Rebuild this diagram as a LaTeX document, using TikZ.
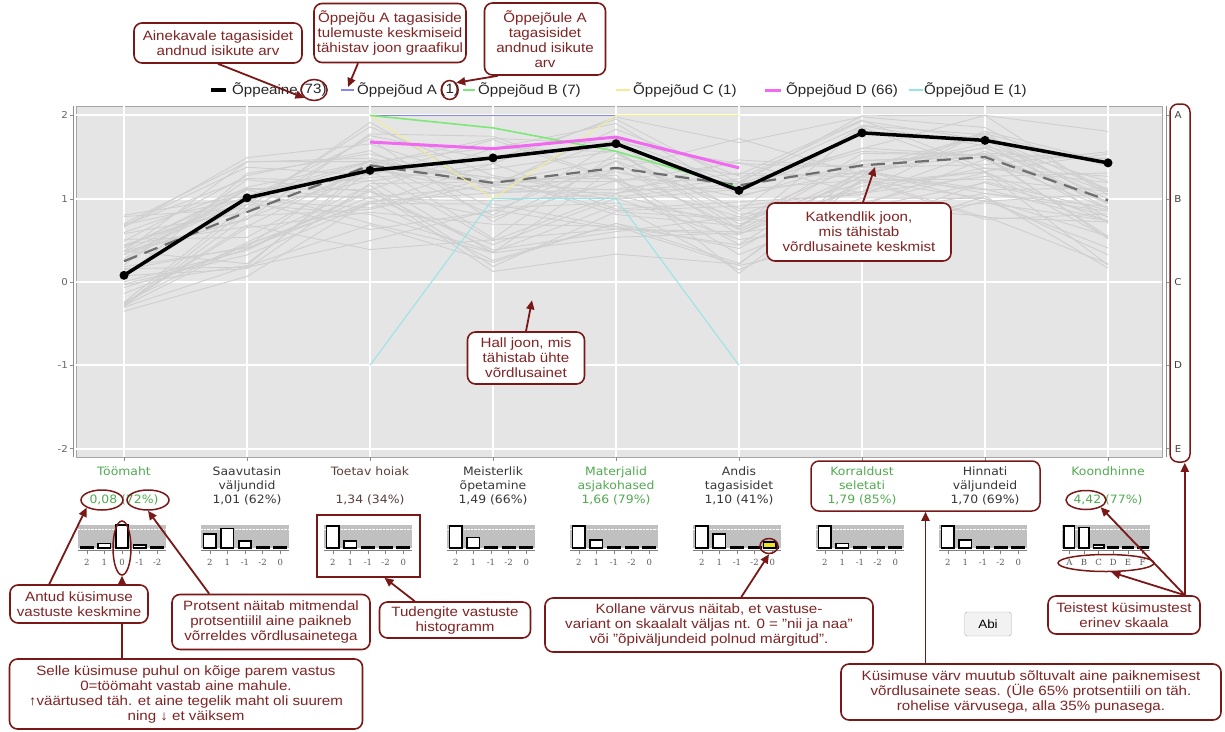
\documentclass[tikz,border=0pt]{standalone}
\usepackage{fontspec}
\setmainfont{Liberation Sans}[FakeStretch=1.12]
\newfontfamily\catfont{DejaVu Sans}[FakeStretch=1.08]
\newfontfamily\tickfont{DejaVu Serif}
\usetikzlibrary{arrows.meta,shapes.geometric,positioning}
\definecolor{callred}{RGB}{122,24,24}
\definecolor{calltext}{RGB}{128,36,36}
\definecolor{panelgray}{RGB}{229,229,229}
\definecolor{compgray}{RGB}{207,207,207}
\definecolor{meangray}{RGB}{110,110,110}
\definecolor{goodgreen}{RGB}{80,170,80}
\definecolor{labeldark}{RGB}{55,55,55}
\definecolor{labelred}{RGB}{92,62,62}
\definecolor{histgray}{RGB}{192,192,192}
\definecolor{lineA}{RGB}{135,135,240}
\definecolor{lineB}{RGB}{125,232,120}
\definecolor{lineC}{RGB}{242,236,150}
\definecolor{lineD}{RGB}{240,105,240}
\definecolor{lineE}{RGB}{150,228,232}
\definecolor{ybar}{RGB}{238,226,40}

% one small histogram: centre x, number of slots, bar heights, tick labels
\newcommand{\histbox}[4]{%
  \pgfmathsetmacro\hsw{88/#2}
  \fill[histgray] ({#1-44},525) rectangle ({#1+44},548);
  \draw[white, densely dotted] ({#1-44},529) -- ({#1+44},529);
  \foreach \h [count=\j from 0] in {#3}
    \draw[histbar] ({#1-44+\hsw*\j+0.15*\hsw},548) rectangle ++({0.7*\hsw},{-max(1.2,23*\h)});
  \draw[gray] ({#1-44},550.5) -- ({#1+44},550.5);
  \foreach \t [count=\j from 0] in {#4}{
    \draw[gray] ({#1-44+\hsw*\j+0.5*\hsw},550.5) -- ++(0,3);
    \node[ticklbl] at ({#1-44+\hsw*\j+0.5*\hsw},562) {\t};
  }
}

\begin{document}
\begin{tikzpicture}[x=1pt, y=-1pt,
    callout/.style={draw=callred, line width=1.6pt, rounded corners=8pt, fill=white, text=calltext, align=center, inner sep=1pt, font=\fontsize{13.5}{15}\selectfont},
    markring/.style={ellipse, draw=callred, line width=1.5pt, inner sep=0pt},
    markbox/.style={rectangle, draw=callred, line width=1.5pt, inner sep=0pt},
    pointer/.style={draw=callred, line width=1.8pt, -{Triangle[length=9pt,width=8pt]}},
    gridline/.style={white, line width=2pt},
    compline/.style={compgray, line width=0.9pt},
    meanline/.style={meangray, line width=2.2pt, dash pattern=on 14pt off 8pt},
    subjline/.style={black, line width=3.5pt, line join=round},
    subjdot/.style={circle, fill=black, inner sep=0pt, minimum size=9pt},
    histbar/.style={draw=black, fill=white, line width=1.6pt},
    ticklbl/.style={font=\tickfont\fontsize{8.5}{10}\selectfont, text=black!65, inner sep=0pt},
    catlbl/.style={font=\catfont\fontsize{11.5}{14}\selectfont, align=center, anchor=north, inner sep=0pt},
    legendtxt/.style={font=\fontsize{13.5}{16}\selectfont, text=black!85, anchor=west, inner sep=0pt},
    axislbl/.style={font=\catfont\fontsize{9.5}{11}\selectfont, text=black!60, inner sep=0pt},
    abibtn/.style={draw=black!30, fill=black!5, rounded corners=3pt, minimum width=47pt, minimum height=24pt, font=\fontsize{12}{14}\selectfont, inner sep=0pt}
  ]
  \useasboundingbox (0,0) rectangle (1225,731);

  % legend
  \draw[line width=4pt] (211,90) -- (226,90);
  \node[legendtxt] (legS) at (232,90) {Õppeaine};
  \node[legendtxt, right=1.5pt of legS] (legSn) {(73)};
  \draw[lineA, line width=1.4pt] (341,90) -- (354,90);
  \coordinate (swA) at (348,87);
  \node[legendtxt] (legA) at (357,90) {Õppejõud A};
  \node[legendtxt, right=3pt of legA] (legAn) {(1)};
  \draw[lineB, line width=2pt] (463,90) -- (475,90);
  \node[legendtxt] (legB) at (478,90) {Õppejõud B (7)};
  \draw[lineC, line width=2pt] (616,90) -- (630,90);
  \node[legendtxt] (legC) at (633,90) {Õppejõud C (1)};
  \draw[lineD, line width=3pt] (765,90) -- (781,90);
  \node[legendtxt] (legD) at (786,90) {Õppejõud D (66)};
  \draw[lineE, line width=2pt] (909,90) -- (923,90);
  \node[legendtxt] (legE) at (924,90) {Õppejõud E (1)};

  % chart panel, values on the y axis
  \begin{scope}[shift={(0,282)}, y=83.3pt]
    \filldraw[fill=panelgray, draw=black!35] (76,2.113) rectangle (1162,-2.1);
    \draw[black!45] (73,2.113) -- (73,-2.1);
    \draw[black!45] (1166,2.113) -- (1166,-2.1);
    \foreach \v in {-2,...,2}{
      \draw[gridline] (76,\v) -- (1162,\v);
      \draw[black!45] (70,\v) -- (73,\v);
      \draw[black!45] (1166,\v) -- (1169,\v);
      \node[axislbl, anchor=east] at (68,\v) {\v};
    }
    \foreach \v/\ch in {2/A,1/B,0/C,-1/D,-2/E}
      \node[axislbl, text=black!75] at (1178,\v) {\ch};
    \foreach \k in {0,...,8}
      \draw[gridline] ({124+123*\k},2.113) -- ({124+123*\k},-2.1);

    % comparison subjects
    \pgfmathsetseed{3}
    \foreach \g in {1,...,45}{
      \pgfmathsetmacro\gbase{0.45*rand}
      \foreach \k/\gm/\gs in {0/0.22/0.3, 1/0.8/0.55, 2/1.2/0.45, 3/1.0/0.55, 4/1.2/0.5, 5/0.9/0.6, 6/1.3/0.45, 7/1.4/0.35, 8/0.9/0.55}{
        \pgfmathsetmacro\gv{max(-0.95,min(2,\gm+\gbase+\gs*rand))}
        \coordinate (g\k) at ({124+123*\k},\gv);
      }
      \draw[compline] (g0) -- (g1) -- (g2) -- (g3) -- (g4) -- (g5) -- (g6) -- (g7) -- (g8);
    }

    % mean of comparison subjects
    \draw[meanline] (124,0.25) -- (247,0.84) -- (370,1.40) -- (493,1.19) -- (616,1.37) -- (739,1.16) -- (862,1.40) -- (985,1.50) -- (1108,0.98);

    % teachers
    \draw[lineA, line width=0.8pt] (370,2) -- (493,2) -- (616,2);
    \draw[lineC, line width=1pt] (370,2) -- (493,1.0) -- (616,2) -- (739,2);
    \draw[lineE, line width=1pt] (370,-1) -- (493,1.0) -- (616,1.0) -- (739,-1);
    \draw[lineB, line width=1.6pt] (370,2) -- (493,1.85) -- (616,1.57) -- (739,1.13);
    \draw[lineD, line width=3pt] (370,1.68) -- (493,1.6) -- (616,1.74) -- (739,1.37);

    % this subject
    \foreach \k/\v in {0/0.08, 1/1.01, 2/1.34, 3/1.49, 4/1.66, 5/1.10, 6/1.79, 7/1.70, 8/1.43}
      \node[subjdot] (s\k) at ({124+123*\k},\v) {};
    \draw[subjline] (s0.center) -- (s1.center) -- (s2.center) -- (s3.center) -- (s4.center) -- (s5.center) -- (s6.center) -- (s7.center) -- (s8.center);

    \coordinate (hallpt) at (532,-0.22);
    \coordinate (katkpt) at (875,1.38);
  \end{scope}

  % question labels
  \foreach \k/\lbl/\col in {
      0/{Töömaht\\[14pt]0,08 (72\%)}/goodgreen,
      1/{Saavutasin\\väljundid\\1,01 (62\%)}/labeldark,
      2/{Toetav hoiak\\[14pt]1,34 (34\%)}/labelred,
      3/{Meisterlik\\õpetamine\\1,49 (66\%)}/labeldark,
      4/{Materjalid\\asjakohased\\1,66 (79\%)}/goodgreen,
      5/{Andis\\tagasisidet\\1,10 (41\%)}/labeldark,
      6/{Korraldust\\seletati\\1,79 (85\%)}/goodgreen,
      7/{Hinnati\\väljundeid\\1,70 (69\%)}/labeldark,
      8/{Koondhinne\\[14pt]4,42 (77\%)}/goodgreen}{
    \draw[black!45] ({124+123*\k},457) -- ++(0,4);
    \node[catlbl, text=\col] (q\k) at ({124+123*\k},467) {\lbl};
  }

  % histograms
  \histbox{122}{5}{0.03,0.2,1.0,0.13,0.03}{2,1,0,-1,-2}
  \histbox{245}{5}{0.6,0.85,0.3,0.03,0.03}{2,1,-1,-2,0}
  \histbox{368}{5}{0.95,0.3,0.03,0.03,0.03}{2,1,-1,-2,0}
  \histbox{491}{5}{0.95,0.45,0.03,0.03,0.03}{2,1,-1,-2,0}
  \histbox{614}{5}{0.95,0.35,0.03,0.03,0.03}{2,1,-1,-2,0}
  \histbox{737}{5}{0.95,0.6,0.05,0.05,0.03}{2,1,-1,-2,0}
  \histbox{860}{5}{0.95,0.2,0.03,0.03,0.03}{2,1,-1,-2,0}
  \histbox{983}{5}{0.95,0.35,0.03,0.03,0.03}{2,1,-1,-2,0}
  \histbox{1106}{6}{0.95,0.9,0.12,0.05,0.03,0.03}{A,B,C,D,E,F}
  \draw[histbar, fill=ybar] (763.5,548) rectangle ++(12.3,-6);

  \node[abibtn] (abi) at (988,624) {Abi};

  % red marks
  \node[markring, minimum width=26pt, minimum height=21pt] (c73) at ([xshift=1pt]legSn.center) {};
  \node[markring, minimum width=17pt, minimum height=19pt] (c1) at (legAn.center) {};
  \node[markring, minimum width=42pt, minimum height=20pt] (c008) at (102,500) {};
  \node[markring, minimum width=42pt, minimum height=20pt] (c72) at (148,500) {};
  \node[markring, minimum width=18pt, minimum height=54pt] (c0tick) at (122,548) {};
  \node[markring, minimum width=18pt, minimum height=15pt] (cyellow) at (769,546) {};
  \node[markring, minimum width=40pt, minimum height=19pt] (c442) at (1086,500) {};
  \node[markring, minimum width=96pt, minimum height=17pt] (cAF) at (1106,563) {};
  \node[markbox, minimum width=103pt, minimum height=62pt] (toetavbox) at (368.5,546) {};
  \node[markbox, rounded corners=8pt, minimum width=229pt, minimum height=50pt] (korrbox) at (925.5,486) {};
  \node[markbox, rounded corners=8pt, minimum width=20pt, minimum height=358pt] (aebox) at (1180,283) {};

  % callouts
  \node[callout, minimum width=168pt, minimum height=40pt] (ainekava) at (218,43) {Ainekavale tagasisidet\\andnud isikute arv};
  \node[callout, minimum width=152pt, minimum height=59pt] (joonA) at (390,33) {Õppejõu A tagasiside\\tulemuste keskmiseid\\tähistav joon graafikul};
  \node[callout, minimum width=121pt, minimum height=72pt] (opetajale) at (545,39) {Õppejõule A\\tagasisidet\\andnud isikute\\arv};
  \node[callout, minimum width=117pt, minimum height=52pt] (hall) at (526,358) {Hall joon, mis\\tähistab ühte\\võrdlusainet};
  \node[callout, minimum width=184pt, minimum height=58pt] (katk) at (859,232) {Katkendlik joon,\\mis tähistab\\võrdlusainete keskmist};

  \draw[pointer] (ainekava.south) -- (c73.south west);
  \draw[pointer] ([xshift=-32pt]joonA.south) -- (swA);
  \draw[pointer] ([xshift=14pt]opetajale.south west) -- (c1.north east);
  \draw[pointer] (hall.north) -- (hallpt);
  \draw[pointer] ([xshift=4pt]katk.north) -- (katkpt);

  \node[callout, minimum width=353pt, minimum height=70pt] (selle) at (186,694) {Selle küsimuse puhul on kõige parem vastus\\0=töömaht vastab aine mahule.\\{\color{callred}↑}väärtused täh. et aine tegelik maht oli suurem\\ning {\color{callred}↓} et väiksem};
  \draw[pointer] (selle.north -| c0tick.south) -- (c0tick.south);

  \node[callout, minimum width=138pt, minimum height=38pt] (antud) at (79,604) {Antud küsimuse\\vastuste keskmine};
  \node[callout, minimum width=198pt, minimum height=55pt] (protsent) at (271,622) {Protsent näitab mitmendal\\protsentiilil aine paikneb\\võrreldes võrdlusainetega};
  \node[callout, minimum width=151pt, minimum height=36pt] (tudeng) at (455,620) {Tudengite vastuste\\histogramm};
  \node[callout, minimum width=328pt, minimum height=54pt] (kollane) at (709,625) {Kollane värvus näitab, et vastuse-\\variant on skaalalt väljas nt. 0 = "nii ja naa"\\või "õpiväljundeid polnud märgitud".};
  \node[callout, minimum width=380pt, minimum height=56pt] (kysimus) at (1031,692) {Küsimuse värv muutub sõltuvalt aine paiknemisest\\võrdlusainete seas. (Üle 65\% protsentiili on täh.\\rohelise värvusega, alla 35\% punasega.};
  \node[callout, minimum width=152pt, minimum height=38pt] (teistest) at (1124,615) {Teistest küsimustest\\erinev skaala};

  \draw[pointer] ([xshift=40pt]antud.north west) -- (c008.south west);
  \draw[pointer] ([xshift=38pt]protsent.north west) -- (c72.south);
  \draw[pointer] ([xshift=36pt]tudeng.north west) -- ([xshift=16pt]toetavbox.south);
  \draw[pointer] ([xshift=197pt]kollane.north west) -- (cyellow.south);
  \draw[pointer] (kysimus.north -| korrbox.south) -- (korrbox.south);
  \coordinate (tsrc) at ([xshift=-16pt]teistest.north east);
  \draw[pointer] (tsrc) -- (cAF.-60);
  \draw[pointer] (tsrc) -- (c442.south east);
  \draw[pointer] (tsrc) -- (tsrc |- aebox.south);
\end{tikzpicture}
\end{document}
